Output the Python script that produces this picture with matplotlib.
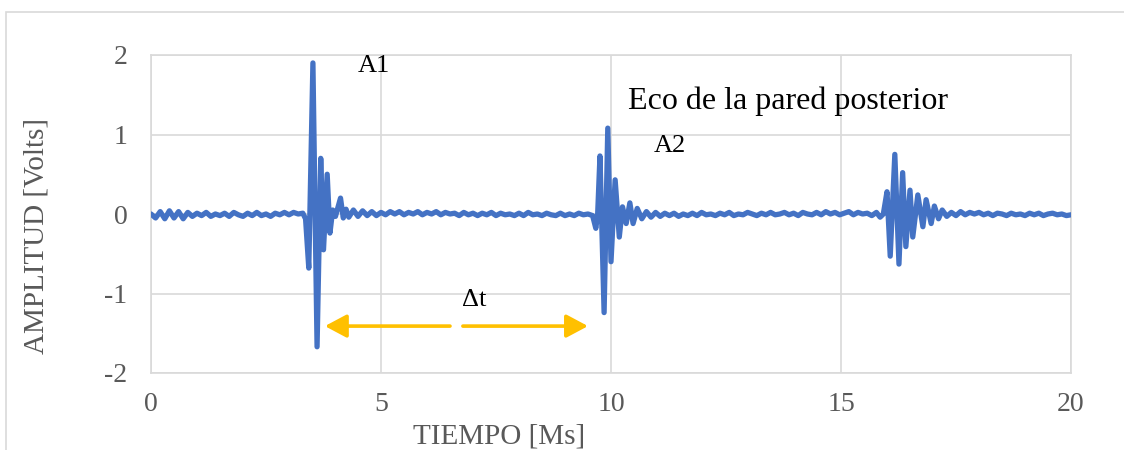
import numpy as np
import matplotlib
matplotlib.use("Agg")
import matplotlib.pyplot as plt
from matplotlib.patches import Rectangle

plt.rcParams["font.family"] = ["Liberation Serif", "DejaVu Serif"]
plt.rcParams["axes.unicode_minus"] = False

# Ruido de fondo (paso 0.1 us)
BASE1_T0 = 0.0
BASE1 = [0.00, -0.05, 0.03, -0.06, 0.04, -0.05, 0.03, -0.06, 0.02, -0.03,
         0.01, -0.02, 0.02, -0.03, 0.00, -0.02, 0.01, -0.03, 0.02, -0.01,
         -0.03, 0.01, -0.02, 0.02, -0.02, 0.00, -0.03, 0.01, -0.01, 0.02,
         -0.01, 0.02, 0.00]
PULSE1_T = [3.30, 3.36, 3.43, 3.52, 3.61, 3.69, 3.75, 3.83, 3.89, 3.95,
            4.01, 4.12, 4.18, 4.24]
PULSE1_V = [0.01, -0.06, -0.68, 1.90, -1.67, 0.70, -0.45, 0.50, -0.24, 0.05,
            -0.03, 0.20, -0.05, 0.06]
BASE2_T0 = 4.3
BASE2 = [-0.04, 0.05, -0.03, 0.04, -0.02, 0.03, -0.02, 0.02, -0.01, 0.03,
         0.00, 0.03, -0.01, 0.02, 0.00, 0.03, -0.01, 0.02, 0.00, 0.03,
         -0.01, 0.02, 0.00, 0.01, -0.02, 0.02, -0.01, 0.01, -0.02, 0.01,
         -0.01, 0.02, -0.02, 0.01, -0.01, 0.00, -0.02, 0.01, -0.02, 0.02,
         -0.01, 0.00, -0.02, 0.01, -0.01, -0.02, 0.01, -0.02, 0.00, -0.02,
         0.01, -0.01, 0.00]
PULSE2_T = [9.60, 9.67, 9.71, 9.76, 9.85, 9.93, 10.00, 10.09, 10.18, 10.25,
            10.33, 10.41, 10.48, 10.57, 10.67, 10.77]
PULSE2_V = [-0.02, -0.18, 0.00, 0.73, -1.24, 1.08, -0.60, 0.43, -0.29, 0.09,
            -0.12, 0.14, -0.12, 0.07, -0.06, 0.03]
BASE3_T0 = 10.87
BASE3 = [-0.04, 0.02, -0.03, 0.01, -0.02, 0.01, -0.03, 0.00, -0.02, 0.01,
         -0.02, 0.02, -0.01, 0.00, -0.02, 0.01, -0.01, 0.02, -0.02, 0.00,
         -0.01, 0.02, 0.00, -0.02, 0.01, -0.01, 0.02, -0.01, 0.00, 0.02,
         -0.01, 0.01, -0.02, 0.02, 0.00, -0.01, 0.02, -0.01, 0.03, 0.00,
         0.02, -0.01, 0.01, 0.03, -0.01, 0.02, 0.00, 0.01, -0.02, 0.02]
PULSE3_T = [15.85, 15.92, 16.00, 16.07, 16.17, 16.26, 16.34, 16.41, 16.50,
            16.56, 16.67, 16.78, 16.85, 16.96, 17.03, 17.12, 17.20, 17.30]
PULSE3_V = [-0.04, 0.00, 0.28, -0.53, 0.75, -0.63, 0.52, -0.41, 0.30,
            -0.29, 0.24, -0.16, 0.18, -0.12, 0.10, -0.06, 0.05, -0.03]
BASE4_T0 = 17.4
BASE4 = [0.02, -0.02, 0.03, -0.01, 0.02, 0.00, 0.02, -0.01, 0.01, -0.02,
         0.01, 0.00, -0.02, 0.01, -0.01, 0.00, -0.02, 0.01, -0.01, 0.01,
         -0.02, 0.00, 0.01, -0.01, 0.00, -0.02, -0.01]

X_TICKS = [0, 5, 10, 15, 20]
Y_TICKS = [-2, -1, 0, 1, 2]

BLUE = "#4472C4"
GOLD = "#FFC000"
GRID = "#D9D9D9"


def seg(t0, vals):
    return list(t0 + 0.1 * np.arange(len(vals)))


time = (seg(BASE1_T0, BASE1) + PULSE1_T + seg(BASE2_T0, BASE2) + PULSE2_T
        + seg(BASE3_T0, BASE3) + PULSE3_T + seg(BASE4_T0, BASE4))
amp = BASE1 + PULSE1_V + BASE2 + PULSE2_V + BASE3 + PULSE3_V + BASE4

fig = plt.figure(figsize=(11.24, 4.5), dpi=100)
fig.patches.append(Rectangle((6 / 1124, -0.1), 1.2, 0.1 + 438 / 450,
                             transform=fig.transFigure, fill=False,
                             edgecolor=GRID, linewidth=1.2))
ax = fig.add_axes([151 / 1124, 77 / 450, 920 / 1124, 318 / 450])

ax.plot(time, amp, color=BLUE, linewidth=3.8, solid_joinstyle="round",
        solid_capstyle="round", zorder=3)

ax.set_xlim(0, 20)
ax.set_ylim(-2, 2)
ax.set_xticks(X_TICKS)
ax.set_yticks(Y_TICKS)
ax.grid(True, color=GRID, linewidth=1.2, zorder=0)
for s in ax.spines.values():
    s.set_color(GRID)
    s.set_linewidth(1.2)
ax.tick_params(length=0, labelsize=20, colors="#595959")
ax.tick_params(axis="y", pad=17)
ax.tick_params(axis="x", pad=14)

fig.text(37 / 1124, 1 - 236 / 450, "AMPLITUD [Volts]", rotation=90,
         ha="center", va="center", fontsize=21, color="#595959")
fig.text(499 / 1124, 1 - 437 / 450, "TIEMPO [Ms]", ha="center", va="center",
         fontsize=21, color="#595959")

ax.text(4.5, 1.86, "A1", fontsize=19, va="center", ha="left")
ax.text(10.93, 0.86, "A2", fontsize=19, va="center", ha="left")
ax.text(10.37, 1.42, "Eco de la pared posterior", fontsize=23,
        va="center", ha="left")
ax.text(6.76, -1.08, "\u0394t", fontsize=19, va="center", ha="left")

arrow = dict(arrowstyle="-|>,head_length=0.6,head_width=0.32", color=GOLD,
             lw=2.6, mutation_scale=22, shrinkA=0, shrinkB=0)
ax.annotate("", xy=(3.78, -1.41), xytext=(6.5, -1.41), arrowprops=arrow)
ax.annotate("", xy=(9.5, -1.41), xytext=(6.78, -1.41), arrowprops=arrow)

fig.savefig("out.png", dpi=100)
